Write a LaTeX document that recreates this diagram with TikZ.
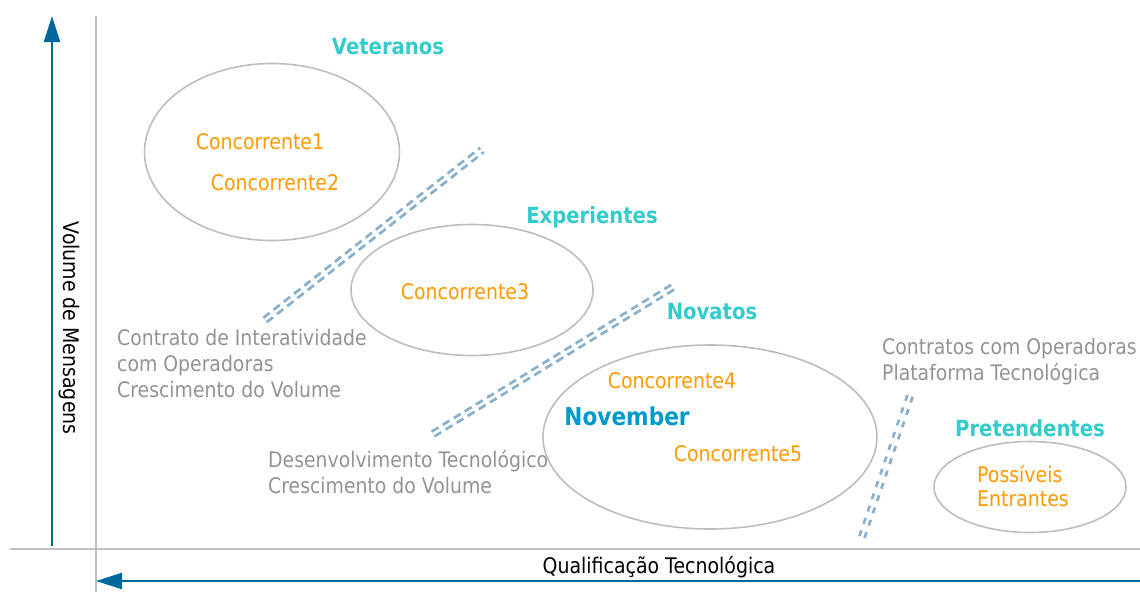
\documentclass[tikz,border=0pt]{standalone}
\usepackage{fontspec}
\setmainfont[FakeStretch=0.88]{DejaVu Sans}
\usetikzlibrary{arrows.meta,shapes.geometric}
\definecolor{axisblue}{HTML}{00679F}
\definecolor{axisgray}{HTML}{C0C0C0}
\definecolor{ellgray}{HTML}{BDBDBD}
\definecolor{teal}{HTML}{33CCCC}
\definecolor{orange}{HTML}{FF9900}
\definecolor{novblue}{HTML}{0099CC}
\definecolor{txtgray}{HTML}{939393}
\definecolor{dashblue}{HTML}{88B0CC}
\tikzset{
  group/.style={draw=ellgray, line width=1.6pt, ellipse, inner sep=0pt},
  title/.style={text=teal, font=\fontsize{22.3}{26}\selectfont\bfseries, inner sep=0pt},
  comp/.style={text=orange, font=\fontsize{21.5}{24}\selectfont, inner sep=0pt},
  note/.style={text=txtgray, font=\fontsize{21.4}{25.8}\selectfont, align=left, inner sep=0pt, anchor=north west},
  axislabel/.style={text=black, font=\fontsize{21.5}{24}\selectfont, inner sep=0pt},
  barrier/.style={draw=dashblue, line width=2.8pt, double=white, double distance=2.6pt, dash pattern=on 8pt off 5pt},
  barrierb/.style={draw=dashblue, line width=2.8pt, double=white, double distance=2.6pt, dash pattern=on 6pt off 7pt},
  axisarrow/.style={draw=axisblue, line width=2.6pt, -{Triangle[length=26pt,width=16pt]}},
  axisline/.style={draw=axisgray, line width=2pt}
}
\begin{document}
\begin{tikzpicture}[x=1pt,y=-1pt]
\useasboundingbox (0,0) rectangle (1140,592);
% axes
\coordinate (vtop) at (96,16);
\coordinate (vbot) at (96,592);
\coordinate (hleft) at (10,549);
\coordinate (hright) at (1140,549);
\draw[axisline] (vtop) -- (vbot);
\draw[axisline] (hleft) -- (hright);
\coordinate (yarrS) at (52,546);
\coordinate (yarrE) at (52,16);
\draw[axisarrow] (yarrS) -- (yarrE);
\coordinate (xarrS) at (1140,581);
\coordinate (xarrE) at (96,581);
\draw[axisarrow] (xarrS) -- (xarrE);
\node[axislabel] (xlab) at (659,567) {Qualificação Tecnológica};
\node[axislabel, rotate=-90] (ylab) at (69,328) {Volume de Mensagens};
% ellipses
\node[group, minimum width=255pt, minimum height=177pt] (vet) at (272,152) {};
\node[group, minimum width=242pt, minimum height=131pt] (exp) at (472,290) {};
\node[group, minimum width=334pt, minimum height=184pt] (nov) at (710,437) {};
\node[group, minimum width=192pt, minimum height=91pt] (pre) at (1030,487) {};
% titles
\node[title] (tvet) at (388,47) {Veteranos};
\node[title] (texp) at (592,217) {Experientes};
\node[title] (tnov) at (712,312) {Novatos};
\node[title] (tpre) at (1030,428) {Pretendentes};
% competitors
\node[comp] (c1) at (260,142) {Concorrente1};
\node[comp] (c2) at (275,183) {Concorrente2};
\node[comp] (c3) at (465,292) {Concorrente3};
\node[comp] (c4) at (672,381) {Concorrente4};
\node[text=novblue, font=\fontsize{24.6}{28}\selectfont\bfseries, inner sep=0pt] (novb) at (627,416) {November};
\node[comp, align=left, font=\fontsize{21.5}{24}\selectfont] (pe) at (1023,486) {Possíveis\\Entrantes};
\node[comp] (c5) at (738,454) {Concorrente5};
% notes
\node[note] (n1) at (117,329) {Contrato de Interatividade\\com Operadoras\\Crescimento do Volume};
\node[note] (n2) at (268,450) {Desenvolvimento Tecnológico\\Crescimento do Volume};
\node[note] (n3) at (882,338) {Contratos com Operadoras\\Plataforma Tecnológica};
% barriers
\coordinate (b1s) at (265,320);
\coordinate (b1e) at (482,150);
\coordinate (b2s) at (433,434);
\coordinate (b2e) at (673,287);
\coordinate (b3s) at (862,537);
\coordinate (b3e) at (912,390);
\draw[barrier] (b1s) -- (b1e);
\draw[barrier] (b2s) -- (b2e);
\draw[barrierb] (b3s) -- (b3e);
\end{tikzpicture}
\end{document}
